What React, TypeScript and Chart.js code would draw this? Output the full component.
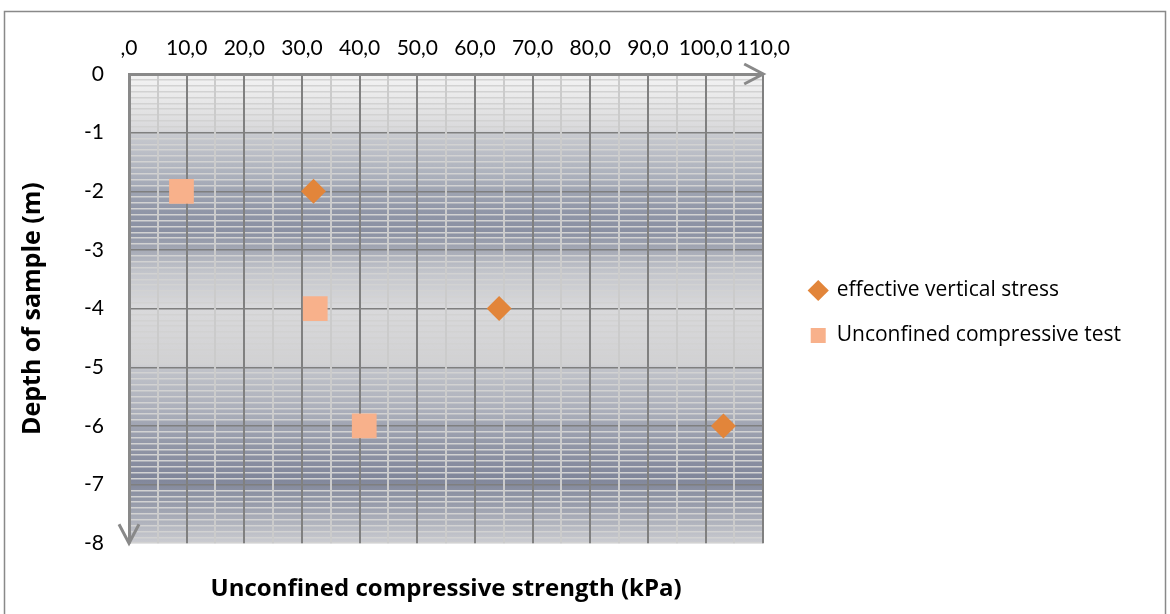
import React, { useEffect, useRef } from "react";
import { Chart, registerables } from "chart.js";

Chart.register(...registerables);

const xTickLabels = [",0", "10,0", "20,0", "30,0", "40,0", "50,0", "60,0", "70,0", "80,0", "90,0", "100,0", "110,0"];
const yTickLabels = ["0", "-1", "-2", "-3", "-4", "-5", "-6", "-7", "-8"];

const stressLabel = "effective vertical stress";
const stressX = [32.0, 64.2, 103.1];
const stressY = [-2, -4, -6];

const ucsLabel = "Unconfined compressive test";
const ucsX = [9.1, 32.3, 40.8];
const ucsY = [-2, -4, -6];

const FONT = "Lato, 'Open Sans', sans-serif";
const LEGEND_FONT = "'Open Sans', Lato, sans-serif";
const BOLD_FONT = "'Open Sans', Lato, sans-serif";
const AXIS_GRAY = "#898989";

const gradientStops: [number, string][] = [
  [0, "#f4f4f4"],
  [-0.95, "#d9d9db"],
  [-1.05, "#c6c8ce"],
  [-1.8, "#a9aeba"],
  [-2.3, "#9197a8"],
  [-2.7, "#8a90a2"],
  [-3.0, "#a6aab6"],
  [-3.4, "#c4c6cc"],
  [-4.0, "#d9d9db"],
  [-4.95, "#d1d1d3"],
  [-5.05, "#c0c2c9"],
  [-5.8, "#a9adb9"],
  [-6.4, "#8f94a5"],
  [-6.9, "#80869a"],
  [-7.3, "#959aa9"],
  [-8, "#cbccd1"],
];

const framePlugin = {
  id: "frame",
  beforeDraw(chart: any) {
    const { ctx, chartArea } = chart;
    const { left, top, right, bottom } = chartArea;
    const yScale = chart.scales.y;
    ctx.save();
    ctx.strokeStyle = AXIS_GRAY;
    ctx.lineWidth = 1.5;
    ctx.strokeRect(4.5, 11.5, chart.width - 9, chart.height + 10);
    const g = ctx.createLinearGradient(0, top, 0, bottom);
    for (const [v, c] of gradientStops) {
      const p = (yScale.getPixelForValue(v) - top) / (bottom - top);
      g.addColorStop(Math.min(1, Math.max(0, p)), c);
    }
    ctx.fillStyle = g;
    ctx.fillRect(left, top, right - left, bottom - top);
    ctx.restore();
  },
  afterDraw(chart: any) {
    const { ctx, chartArea } = chart;
    const { left, top, right, bottom } = chartArea;
    ctx.save();
    ctx.strokeStyle = AXIS_GRAY;
    ctx.lineWidth = 3;
    ctx.lineJoin = "miter";
    ctx.beginPath();
    ctx.moveTo(right - 19, top - 10);
    ctx.lineTo(right, top);
    ctx.lineTo(right - 19, top + 10);
    ctx.stroke();
    ctx.beginPath();
    ctx.moveTo(left - 10, bottom - 19);
    ctx.lineTo(left, bottom);
    ctx.lineTo(left + 10, bottom - 19);
    ctx.stroke();
    ctx.restore();
  },
};

const isMajorY = (v: number) => Math.abs(v - Math.round(v)) < 1e-6;

export default function App() {
  const ref = useRef<HTMLCanvasElement | null>(null);

  useEffect(() => {
    if (!ref.current) return;
    const chart = new Chart(ref.current, {
      type: "scatter",
      data: {
        datasets: [
          {
            label: stressLabel,
            data: stressX.map((x, i) => ({ x, y: stressY[i] })),
            pointStyle: "rectRot",
            pointRadius: 12.5,
            backgroundColor: "#E2853A",
            borderColor: "#E2853A",
            borderWidth: 0,
          },
          {
            label: ucsLabel,
            data: ucsX.map((x, i) => ({ x, y: ucsY[i] })),
            pointStyle: "rect",
            pointRadius: 17.5,
            backgroundColor: "#F8B18B",
            borderColor: "#F8B18B",
            borderWidth: 0,
          },
        ],
      },
      plugins: [framePlugin],
      options: {
        responsive: false,
        animation: false,
        events: [],
        layout: { padding: { top: 12, left: 8, right: 39, bottom: 0 } },
        scales: {
          x: {
            type: "linear",
            position: "top",
            min: 0,
            max: 110,
            afterFit: (s: any) => {
              s.height = 62;
            },
            ticks: {
              stepSize: 5,
              autoSkip: false,
              maxRotation: 0,
              padding: 13,
              color: "#000",
              font: { family: FONT, size: 21 },
              callback: (v: any) => {
                const n = Number(v);
                if (Math.abs(n % 10) > 1e-6) return "";
                return xTickLabels[Math.round(n / 10)] ?? "";
              },
            },
            grid: {
              z: -1,
              drawTicks: false,
              color: (c: any) => (c.tick && Math.abs(c.tick.value % 10) < 1e-6 ? "#808080" : "#cbcbcb"),
              lineWidth: 2,
            },
            border: { display: true, color: AXIS_GRAY, width: 3 },
          },
          y: {
            type: "linear",
            position: "left",
            min: -8,
            max: 0,
            afterFit: (s: any) => {
              s.width = 121;
            },
            title: {
              display: true,
              text: "Depth of sample (m)",
              color: "#000",
              font: { family: BOLD_FONT, size: 25, weight: "bold" },
              padding: { top: 10, bottom: 0 },
            },
            ticks: {
              stepSize: 0.1,
              autoSkip: false,
              padding: 25,
              color: "#000",
              font: { family: FONT, size: 21 },
              callback: (v: any) => {
                const n = Number(v);
                if (!isMajorY(n)) return "";
                return yTickLabels[Math.abs(Math.round(n))] ?? "";
              },
            },
            grid: {
              z: -2,
              drawTicks: false,
              color: (c: any) =>
                c.tick && isMajorY(c.tick.value) && Math.round(c.tick.value) !== -8 ? "#7f7f7f" : "#d2d2d2",
              lineWidth: 1.5,
            },
            border: { display: true, color: AXIS_GRAY, width: 3 },
          },
          spacer: {
            type: "linear",
            position: "right",
            display: true,
            afterFit: (s: any) => {
              s.width = 23;
            },
            grid: { display: false },
            border: { display: false },
            ticks: { display: false },
          },
        },
        plugins: {
          legend: {
            position: "right",
            align: "center",
            maxWidth: 440,
            labels: {
              usePointStyle: true,
              boxWidth: 16,
              boxHeight: 15,
              padding: 24,
              color: "#000",
              font: { family: LEGEND_FONT, size: 21 },
            },
          },
          title: {
            display: true,
            text: "Unconfined compressive strength (kPa)",
            position: "bottom",
            fullSize: false,
            color: "#000",
            font: { family: BOLD_FONT, size: 24, weight: "bold" },
            padding: { top: 32, bottom: 10 },
          },
          tooltip: { enabled: false },
        },
      } as any,
    });
    return () => chart.destroy();
  }, []);

  return (
    <div style={{ position: "absolute", left: 0, top: 0, width: 1170, height: 614 }}>
      <canvas ref={ref} width={1170} height={614} style={{ display: "block" }} />
    </div>
  );
}
